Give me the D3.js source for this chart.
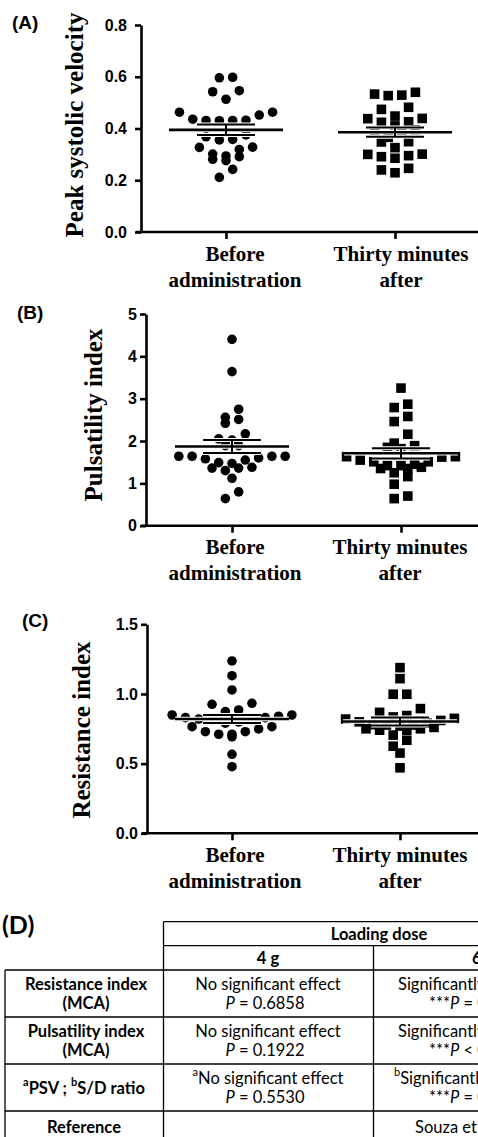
<!DOCTYPE html>
<html lang="en">
<head>
<meta charset="utf-8">
<title>Doppler indices before and after loading dose</title>
<script src="https://d3js.org/d3.v7.min.js"></script>
<style>
  body { margin: 0; background: #fff; }
  svg { display: block; }
  .tick text { font-family: "Liberation Sans", Arial, sans-serif; font-weight: bold; font-size: 16px; fill: #000; }
  .cat { font-family: "Liberation Serif", "Times New Roman", serif; font-weight: bold; font-size: 21px; }
  .ytitle { font-family: "Liberation Serif", "Times New Roman", serif; font-weight: bold; font-size: 25px; }
  .tag { font-family: "Liberation Sans", Arial, sans-serif; font-weight: bold; font-size: 19px; }
  .tbl { font-family: Lato, "Open Sans", sans-serif; font-size: 16.5px; }
</style>
</head>
<body>
<svg width="478" height="1137"></svg>
<script>
// ---- data ----
var groups = ['Before administration', 'Thirty minutes after'];
var groupLines = [['Before', 'administration'], ['Thirty minutes', 'after']];

var psvBefore = [0.598, 0.596, 0.546, 0.542, 0.513, 0.463, 0.463, 0.452, 0.431, 0.432, 0.430, 0.431, 0.436,
  0.375, 0.368, 0.358, 0.356, 0.327, 0.328, 0.319, 0.301, 0.294, 0.291, 0.281, 0.276, 0.242, 0.211];
var psvAfter = [0.540, 0.529, 0.527, 0.533, 0.482, 0.474, 0.439, 0.448, 0.438, 0.426, 0.424, 0.410, 0.388,
  0.386, 0.395, 0.366, 0.349, 0.348, 0.326, 0.300, 0.291, 0.285, 0.295, 0.301, 0.246, 0.229, 0.240];
var piBefore = [4.40, 3.64, 2.75, 2.56, 2.51, 2.42, 2.17, 2.02, 2.05, 1.89, 1.89, 1.64, 1.64, 1.60,
  1.55, 1.58, 1.64, 1.64, 1.47, 1.49, 1.36, 1.30, 1.38, 1.36, 1.12, 0.80, 0.64];
var piAfter = [3.25, 2.79, 2.87, 2.58, 2.46, 2.16, 1.85, 1.95, 1.89, 1.82, 1.63, 1.63, 1.51, 1.51,
  1.42, 1.42, 1.35, 1.35, 1.62, 1.55, 1.45, 1.38, 1.25, 1.16, 0.98, 0.70, 0.64];
var riBefore = [1.237, 1.131, 1.029, 0.926, 0.933, 0.873, 0.885, 0.849, 0.849, 0.84, 0.83, 0.83, 0.82,
  0.81, 0.81, 0.80, 0.79, 0.765, 0.729, 0.711, 0.693, 0.711, 0.729, 0.749, 0.765, 0.567, 0.478];
var riAfter = [1.189, 1.110, 0.998, 0.998, 0.895, 0.868, 0.845, 0.825, 0.835, 0.82, 0.81, 0.80, 0.79,
  0.78, 0.777, 0.777, 0.77, 0.76, 0.75, 0.75, 0.74, 0.74, 0.705, 0.668, 0.625, 0.576, 0.470];

var psvTicks = [0, 0.2, 0.4, 0.6, 0.8];
var piTicks = [0, 1, 2, 3, 4, 5];
var riTicks = [0, 0.5, 1.0, 1.5];

// table (D)
var tableTitle = 'Loading dose';
var doseCols = ['4 g', '6 g'];
var rowLabels = [['Resistance index', '(MCA)'], ['Pulsatility index', '(MCA)'], ['PSV ; S/D ratio'], ['Reference']];
var dose4g = [['No significant effect', '0.6858'], ['No significant effect', '0.1922'], ['No significant effect', '0.5530'], []];
var dose6g = [['Significantly reduced', '= 0.0001'], ['Significantly reduced', '< 0.0001'], ['Significantly reduced', '= 0.0001'], ['Souza et al.']];

var svg = d3.select('svg');

// ---- panel layout ----
var panels = [
  { tag: '(A)', title: 'Peak systolic velocity', a: psvBefore, b: psvAfter, ticks: psvTicks, fmt: d3.format('.1f'),
    ax: 141, top: 25, bottom: 232, cats: [226, 395], lab: [235, 401], ly: 261, pad: 8, tx: 83, ty: 125, tagY: 29 },
  { tag: '(B)', title: 'Pulsatility index', a: piBefore, b: piAfter, ticks: piTicks, fmt: d3.format('d'),
    ax: 146, top: 314, bottom: 525.7, cats: [232, 401], lab: [235, 400], ly: 554, pad: 3, tx: 102, ty: 415, tagY: 319 },
  { tag: '(C)', title: 'Resistance index', a: riBefore, b: riAfter, ticks: riTicks, fmt: d3.format('.1f'),
    ax: 147, top: 624.3, bottom: 833.3, cats: [232, 400], lab: [235, 400], ly: 862, pad: 3, tx: 90, ty: 730, tagY: 627 }
];
var tagX = [12, 17, 22];

// rows like GraphPad: points that sit within one symbol height share a row
function swarm(values, y, cx, spacing, rowPx) {
  var pts = values.map(function(v) { return { v: v, py: y(v) }; })
    .sort(function(p, q) { return p.py - q.py; });
  var rows = [];
  pts.forEach(function(p) {
    var row = rows[rows.length - 1];
    if (row && p.py - row[0].py <= rowPx) row.push(p); else rows.push([p]);
  });
  rows.forEach(function(row) {
    var n = row.length;
    var slots = d3.range(n).map(function(i) { return i - (n - 1) / 2; })
      .sort(function(s, t) { return Math.abs(s) - Math.abs(t) || s - t; });
    row.slice().sort(function(p, q) { return p.v - q.v; })
      .forEach(function(p, i) { p.px = cx + slots[i] * spacing; });
  });
  return pts;
}

panels.forEach(function(P, pi) {
  var y = d3.scaleLinear().domain([0, P.ticks[P.ticks.length - 1]]).range([P.bottom, P.top]);
  var x = d3.scalePoint().domain(groups).range(P.cats);
  var g = svg.append('g');

  // y axis
  var yAxis = g.append('g')
    .attr('transform', 'translate(' + P.ax + ',0)')
    .call(d3.axisLeft(y).tickValues(P.ticks).tickFormat(P.fmt).tickSize(6).tickSizeOuter(0).tickPadding(P.pad));
  yAxis.selectAll('path, line').attr('stroke', '#000').attr('stroke-width', 2.6);

  // x axis: ticks only, line drawn across to the page edge
  var xAxis = g.append('g')
    .attr('transform', 'translate(0,' + P.bottom + ')')
    .call(d3.axisBottom(x).tickSize(7).tickFormat(''));
  xAxis.select('.domain').remove();
  xAxis.selectAll('line').attr('stroke', '#000').attr('stroke-width', 2.6);
  g.append('line')
    .attr('x1', P.ax - 5).attr('x2', 480)
    .attr('y1', P.bottom).attr('y2', P.bottom)
    .attr('stroke', '#000').attr('stroke-width', 2.6);

  // category labels
  groupLines.forEach(function(lines, i) {
    g.append('text').attr('class', 'cat')
      .attr('text-anchor', 'middle')
      .selectAll('tspan').data(lines).enter().append('tspan')
      .attr('x', P.lab[i])
      .attr('y', function(d, j) { return P.ly + j * 26; })
      .text(function(d) { return d; });
  });

  // y title
  g.append('text').attr('class', 'ytitle')
    .attr('text-anchor', 'middle')
    .attr('transform', 'translate(' + P.tx + ',' + P.ty + ') rotate(-90)')
    .text(P.title);

  g.append('text').attr('class', 'tag')
    .attr('x', tagX[pi]).attr('y', P.tagY)
    .text(P.tag);

  // points
  var before = swarm(P.a, y, x(groups[0]), 13.3, 9);
  var after = swarm(P.b, y, x(groups[1]), 13.6, 9);

  g.append('g').selectAll('circle').data(before).enter().append('circle')
    .attr('cx', function(d) { return d.px; })
    .attr('cy', function(d) { return d.py; })
    .attr('r', 4.8)
    .attr('fill', '#000');

  g.append('g').selectAll('rect').data(after).enter().append('rect')
    .attr('x', function(d) { return d.px - 4.8; })
    .attr('y', function(d) { return d.py - 4.8; })
    .attr('width', 9.6).attr('height', 9.6)
    .attr('fill', '#000');

  // mean and SEM
  [P.a, P.b].forEach(function(vals, i) {
    var cx = x(groups[i]);
    var m = d3.mean(vals);
    var sem = d3.deviation(vals) / Math.sqrt(vals.length);
    var segs = [
      [cx - 57, y(m), cx + 57, y(m), 2.6],
      [cx - 29, y(m + sem), cx + 29, y(m + sem), 2],
      [cx - 29, y(m - sem), cx + 29, y(m - sem), 2],
      [cx, y(m + sem), cx, y(m - sem), 2]
    ];
    var eb = g.append('g');
    eb.selectAll('line.halo').data(segs).enter().append('line')
      .attr('class', 'halo')
      .attr('x1', function(d) { return d[0]; }).attr('y1', function(d) { return d[1]; })
      .attr('x2', function(d) { return d[2]; }).attr('y2', function(d) { return d[3]; })
      .attr('stroke', '#fff').attr('stroke-width', function(d) { return d[4] + 2; });
    eb.selectAll('line.bar').data(segs).enter().append('line')
      .attr('class', 'bar')
      .attr('x1', function(d) { return d[0]; }).attr('y1', function(d) { return d[1]; })
      .attr('x2', function(d) { return d[2]; }).attr('y2', function(d) { return d[3]; })
      .attr('stroke', '#000').attr('stroke-width', function(d) { return d[4]; });
  });
});

// ---- table (D) ----
var t = svg.append('g').attr('class', 'tbl');
t.append('text').attr('x', 2).attr('y', 934)
  .style('font-weight', 'bold').style('font-size', '25px')
  .text('(D)');

var colX = [5, 163.5, 373.5, 583.5];
var rowY = [970, 1017, 1064, 1111, 1158];
var l1y = 14, l2y = 33;

function hline(x1, x2, yy) {
  t.append('line').attr('x1', x1).attr('x2', x2).attr('y1', yy).attr('y2', yy)
    .attr('stroke', '#000').attr('stroke-width', 1.3);
}
function vline(xx, y1, y2) {
  t.append('line').attr('x1', xx).attr('x2', xx).attr('y1', y1).attr('y2', y2)
    .attr('stroke', '#000').attr('stroke-width', 1.3);
}
hline(colX[1], 480, 921.7);
hline(colX[1], 480, 945.7);
rowY.forEach(function(yy) { hline(colX[0], 480, yy); });
vline(colX[0], rowY[0], 1137);
vline(colX[1], 921.7, 1137);
vline(colX[2], 945.7, 1137);

function cell(x, yy, anchor) {
  return t.append('text').attr('x', x).attr('y', yy)
    .attr('text-anchor', anchor).attr('dominant-baseline', 'central');
}

cell(379, 934, 'middle').style('font-weight', 'bold').text(tableTitle);
cell(268, 958, 'middle').style('font-weight', 'bold').text(doseCols[0]);
cell(472, 958, 'start').style('font-weight', 'bold').text(doseCols[1]);

// row labels
rowLabels.forEach(function(lines, r) {
  var top = rowY[r];
  if (r === 2) {
    var tx = cell(84, top + 24, 'middle').style('font-weight', 'bold');
    tx.append('tspan').attr('baseline-shift', 'super').style('font-size', '11px').text('a');
    tx.append('tspan').text(lines[0].split(' ; ')[0] + ' ; ');
    tx.append('tspan').attr('baseline-shift', 'super').style('font-size', '11px').text('b');
    tx.append('tspan').text(lines[0].split(' ; ')[1]);
  } else if (lines.length === 1) {
    cell(84, top + 16, 'middle').style('font-weight', 'bold').text(lines[0]);
  } else {
    cell(86, top + l1y, 'middle').style('font-weight', 'bold').text(lines[0]);
    cell(86, top + l2y, 'middle').style('font-weight', 'bold').text(lines[1]);
  }
});

// 4 g column
dose4g.forEach(function(c, r) {
  if (!c.length) return;
  var top = rowY[r];
  var l1 = cell(268, top + l1y, 'middle');
  if (r === 2) l1.append('tspan').attr('baseline-shift', 'super').style('font-size', '11px').text('a');
  l1.append('tspan').text(c[0]);
  var l2 = cell(265, top + l2y, 'middle');
  l2.append('tspan').style('font-style', 'italic').text('P');
  l2.append('tspan').text(' = ' + c[1]);
});

// 6 g column (runs past the right edge)
dose6g.forEach(function(c, r) {
  var top = rowY[r];
  if (c.length === 1) { cell(415, top + 16, 'start').text(c[0]); return; }
  var l1 = cell(r === 2 ? 394 : 398, top + l1y, 'start');
  if (r === 2) l1.append('tspan').attr('baseline-shift', 'super').style('font-size', '11px').text('b');
  l1.append('tspan').text(c[0]);
  var l2 = cell(429, top + l2y, 'start');
  l2.append('tspan').text('***');
  l2.append('tspan').style('font-style', 'italic').text('P');
  l2.append('tspan').text(' ' + c[1]);
});
</script>
</body>
</html>
